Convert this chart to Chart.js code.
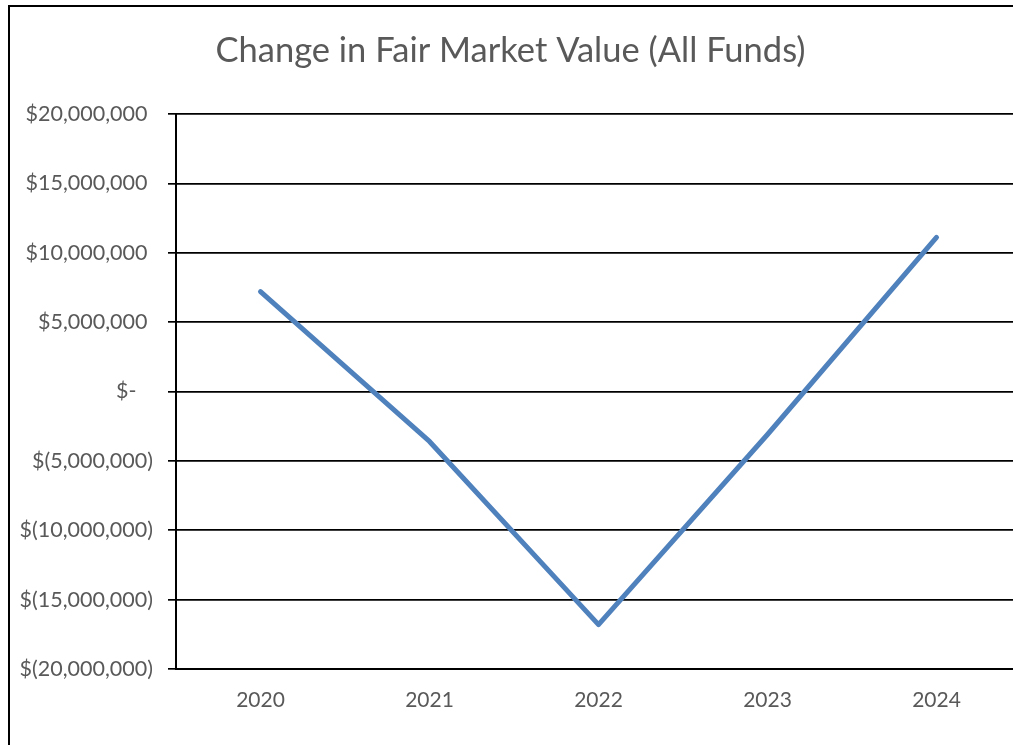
<!DOCTYPE html>
<html>
<head>
<meta charset="utf-8">
<script src="https://cdn.jsdelivr.net/npm/chart.js@4"></script>
<style>
  html, body { margin: 0; padding: 0; background: #fff; overflow: hidden; }
  #frame { position: absolute; left: 8px; top: 5px; width: 1100px; height: 800px;
           border-left: 2px solid #000; border-top: 2px solid #000; }
  #wrap { position: absolute; left: 0; top: 0; width: 1021px; height: 745px; }
</style>
</head>
<body>
<div id="frame"></div>
<div id="wrap"><canvas id="fmvChart"></canvas></div>
<script>
  // data (dollars)
  const years = ['2020', '2021', '2022', '2023', '2024'];
  const fmvChange = [7200000, -3600000, -16800000, -3100000, 11100000];
  const yTicks = [-20000000, -15000000, -10000000, -5000000, 0, 5000000, 10000000, 15000000, 20000000];

  const grey = '#595959';

  function money(v) {
    if (v === 0) return '$-   ';
    const s = Math.abs(v).toLocaleString('en-US');
    return v < 0 ? '$(' + s + ')' : '$' + s + ' ';
  }

  const ctx = document.getElementById('fmvChart');
  new Chart(ctx, {
    type: 'line',
    data: {
      labels: years,
      datasets: [{
        label: 'Change in Fair Market Value',
        data: fmvChange,
        borderColor: '#4f81bd',
        borderWidth: 5,
        borderCapStyle: 'round',
        borderJoinStyle: 'round',
        pointRadius: 0,
        tension: 0
      }]
    },
    options: {
      responsive: true,
      maintainAspectRatio: false,
      animation: false,
      layout: { padding: 0 },
      plugins: {
        legend: { display: false },
        tooltip: { enabled: false },
        title: {
          display: true,
          text: 'Change in Fair Market Value (All Funds)',
          color: grey,
          font: { family: 'Lato', size: 34.5, weight: 'normal' },
          padding: { top: 30, bottom: 42.6 }
        }
      },
      scales: {
        x: {
          offset: true,
          grid: { display: false, drawTicks: false },
          border: { display: true, color: '#000', width: 2 },
          ticks: { color: grey, font: { family: 'Lato', size: 21 }, padding: 19 },
          afterFit: function (s) { s.height = 76; }
        },
        y: {
          min: -20000000,
          max: 20000000,
          afterBuildTicks: function (s) { s.ticks = yTicks.map(v => ({ value: v })); },
          grid: { color: '#000', lineWidth: 1.7, tickLength: 8 },
          border: { display: true, color: '#000', width: 2 },
          ticks: {
            color: grey,
            font: { family: 'Lato', size: 21.5 },
            padding: 15,
            callback: function (v) { return money(v); }
          },
          afterFit: function (s) { s.width = 176; }
        }
      }
    }
  });
</script>
</body>
</html>
